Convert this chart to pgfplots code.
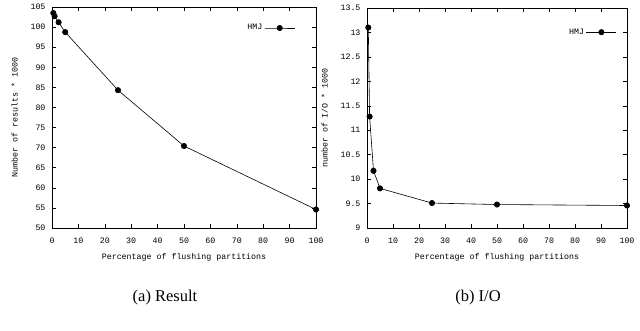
\documentclass[border=0pt]{standalone}
\usepackage{fontspec}
\setmainfont{Liberation Serif}
\setmonofont{Liberation Mono}
\usepackage{pgfplots}
\pgfplotsset{compat=1.18}
\begin{document}
\begin{tikzpicture}
\path (0pt,0pt) rectangle (640pt,331pt);
\pgfplotsset{
  gp/.style={
    scale only axis,
    axis line style={line width=0.6pt},
    tick style={black, line width=0.5pt},
    major tick length=4pt,
    tick align=inside,
    xmin=0, xmax=100, xtick={0,10,...,100},
    tick label style={font=\ttfamily\fontsize{8.3}{9}\selectfont},
    xticklabel style={yshift=-6pt},
    yticklabel style={xshift=-3pt},
    label style={font=\ttfamily\fontsize{8.3}{9}\selectfont},
    /pgf/number format/assume math mode=true,
    legend style={draw=none, fill=none, font=\ttfamily\fontsize{8.3}{9}\selectfont, inner sep=1pt},
    legend plot pos=right,
    legend cell align=right,
    legend image code/.code={\draw[mark repeat=2,mark phase=2] plot coordinates {(0pt,0pt) (15pt,0pt) (30pt,0pt)};},
    xlabel={Percentage of flushing partitions},
    xlabel style={yshift=-3pt},
    ylabel style={yshift=6pt},
  },
  ser/.style={black, line width=0.6pt, mark=*, mark size=2.7pt, mark options={fill=black}},
}
\begin{axis}[gp, at={(52pt,103pt)}, anchor=south west, width=264pt, height=221pt,
  ymin=50, ymax=105, ytick={50,55,...,105},
  ylabel={Number of results * 1000},
  legend style={at={(0.925,0.905)}, anchor=east},
]
\addplot[ser] coordinates {(0.5,103.5) (1,102.7) (2.5,101.2) (5,98.75) (25,84.3) (50,70.4) (100,54.6)};
\addlegendentry{HMJ}
\end{axis}
\begin{axis}[gp, at={(367pt,103pt)}, anchor=south west, width=260pt, height=220pt,
  ymin=9, ymax=13.5, ytick={9,9.5,...,13.5},
  yticklabel style={/pgf/number format/fixed},
  ylabel={number of I/O * 1000},
  legend style={at={(0.965,0.89)}, anchor=east},
]
\addplot[ser] coordinates {(0.5,13.1) (1,11.28) (2.5,10.17) (5,9.81) (25,9.51) (50,9.48) (100,9.46)};
\addlegendentry{HMJ}
\end{axis}
\node[font=\fontsize{16.5}{18}\selectfont] at (165pt,33pt) {(a) Result};
\node[font=\fontsize{16.5}{18}\selectfont] at (478pt,33pt) {(b) I/O};
\end{tikzpicture}
\end{document}
